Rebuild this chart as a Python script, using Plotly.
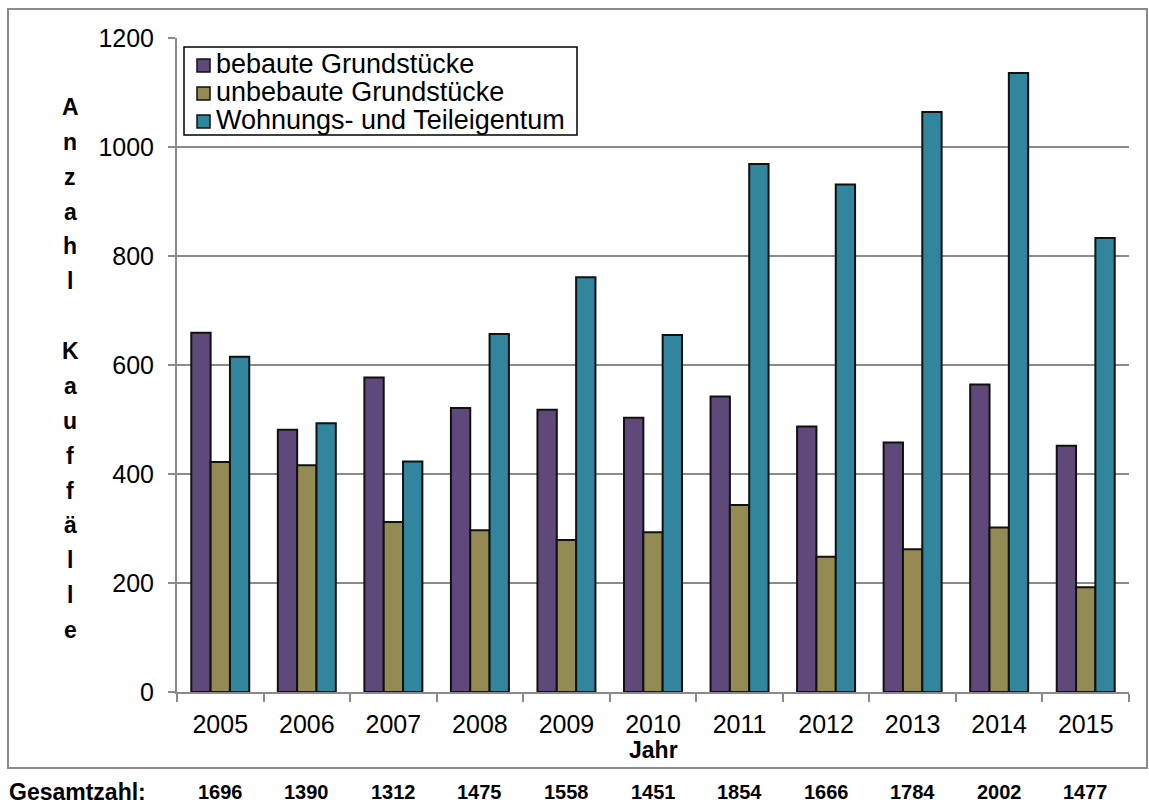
import plotly.graph_objects as go

# Kauffälle je Jahr nach Teilmarkt
jahre = ["2005", "2006", "2007", "2008", "2009", "2010", "2011", "2012", "2013", "2014", "2015"]
bebaute = [659, 481, 577, 521, 518, 503, 542, 487, 458, 564, 452]
unbebaute = [422, 416, 312, 297, 279, 293, 343, 248, 262, 302, 192]
wohnungseigentum = [615, 493, 423, 657, 761, 655, 969, 931, 1064, 1136, 833]
gesamt = [a + b + c for a, b, c in zip(bebaute, unbebaute, wohnungseigentum)]

y_ticks = [0, 200, 400, 600, 800, 1000, 1200]
y_titel = "Anzahl Kauffälle"

FONT = "Arial, 'Liberation Sans', sans-serif"
GRID = "#8a8a8a"

W, H = 1149, 805
L, R, T, B = 177, 20, 38, 113
PW, PH = W - L - R, H - T - B


def px_x(x):
    return (x - L) / PW


def px_y(y):
    return (H - B - y) / PH


fig = go.Figure()
serien = [
    ("bebaute Grundstücke", bebaute, "#5F497A"),
    ("unbebaute Grundstücke", unbebaute, "#948A54"),
    ("Wohnungs- und Teileigentum", wohnungseigentum, "#31859C"),
]
for name, werte, farbe in serien:
    fig.add_trace(go.Bar(
        x=jahre, y=werte, name=name, showlegend=False,
        marker=dict(color=farbe, line=dict(color="#111111", width=2)),
    ))

annotations = []
shapes = []

# senkrecht gestapelter Achsentitel
schritt = (630 - 107) / (len(y_titel) - 1)
for i, ch in enumerate(y_titel):
    if ch == " ":
        continue
    annotations.append(dict(
        text=ch, xref="paper", yref="paper",
        x=px_x(70), y=px_y(107 + i * schritt),
        xanchor="center", yanchor="middle", showarrow=False,
        font=dict(family=FONT, size=23, color="black", weight="bold"),
    ))

annotations.append(dict(
    text="Jahr", xref="paper", yref="paper", x=0.5, y=px_y(750),
    xanchor="center", yanchor="middle", showarrow=False,
    font=dict(family=FONT, size=23, color="black", weight="bold"),
))

# Gesamtzahlen unter dem Diagramm
annotations.append(dict(
    text="Gesamtzahl:", xref="paper", yref="paper", x=px_x(7), y=px_y(792),
    xanchor="left", yanchor="middle", showarrow=False,
    font=dict(family=FONT, size=23, color="black", weight="bold"),
))
for i, summe in enumerate(gesamt):
    annotations.append(dict(
        text=str(summe), xref="x", yref="paper", x=i, y=px_y(792),
        xanchor="center", yanchor="middle", showarrow=False,
        font=dict(family=FONT, size=20, color="black", weight="bold"),
    ))

# Legende als Kasten oben links
shapes.append(dict(
    type="rect", xref="paper", yref="paper",
    x0=px_x(184), x1=px_x(577), y0=px_y(135), y1=px_y(47),
    line=dict(color="black", width=1.5), fillcolor="white", layer="above",
))
zeilen_y = [64, 92, 120]
for (name, _, farbe), zy in zip(serien, zeilen_y):
    shapes.append(dict(
        type="rect", xref="paper", yref="paper",
        x0=px_x(197), x1=px_x(210), y0=px_y(zy + 8), y1=px_y(zy - 5),
        line=dict(color="#111111", width=1.5), fillcolor=farbe, layer="above",
    ))
    annotations.append(dict(
        text=name, xref="paper", yref="paper", x=px_x(214), y=px_y(zy),
        xanchor="left", yanchor="middle", showarrow=False,
        font=dict(family=FONT, size=27, color="black"),
    ))

# Rahmen um das Diagramm
shapes.append(dict(
    type="rect", xref="paper", yref="paper",
    x0=px_x(8), x1=px_x(1147), y0=px_y(768), y1=px_y(9),
    line=dict(color=GRID, width=2), fillcolor="rgba(0,0,0,0)", layer="below",
))

fig.update_layout(
    width=W, height=H,
    margin=dict(l=L, r=R, t=T, b=B),
    paper_bgcolor="white", plot_bgcolor="white",
    barmode="group", bargap=0.33, bargroupgap=0,
    font=dict(family=FONT, size=25, color="black"),
    showlegend=False,
    xaxis=dict(
        type="category", range=[-0.5, len(jahre) - 0.5], showgrid=False,
        showline=True, linecolor=GRID, linewidth=2,
        ticks="outside", tickson="boundaries", ticklen=8, tickcolor=GRID, tickwidth=2,
        tickfont=dict(family=FONT, size=25, color="black"),
        ticklabelstandoff=9, tickangle=0,
    ),
    yaxis=dict(
        range=[0, 1200], tickvals=y_ticks,
        showgrid=True, gridcolor=GRID, gridwidth=2,
        showline=True, linecolor=GRID, linewidth=2,
        ticks="outside", ticklen=7, tickcolor=GRID, tickwidth=2,
        tickfont=dict(family=FONT, size=25, color="black"),
        ticklabelstandoff=9, zeroline=False,
    ),
    annotations=annotations,
    shapes=shapes,
)

fig.write_html("out.html")
